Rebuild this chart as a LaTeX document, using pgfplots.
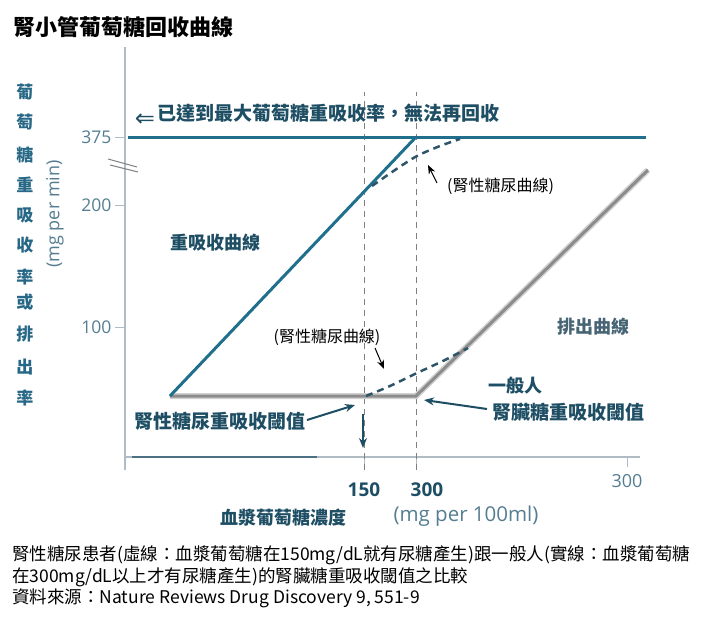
\documentclass[border=0pt]{standalone}
\usepackage{fontspec}
\setmainfont{Noto Sans CJK TC}
\newfontfamily\lat{Open Sans}
\newfontfamily\dejavu{DejaVu Sans}
\usepackage{pgfplots}
\pgfplotsset{compat=1.18}
\usetikzlibrary{arrows.meta}
\newcommand\fs[1]{\fontsize{#1pt}{#1pt}\selectfont}
\definecolor{lineblue}{RGB}{31,111,141}
\definecolor{darkteal}{RGB}{30,78,100}
\definecolor{ytitle}{RGB}{40,104,135}
\definecolor{tickc}{RGB}{85,125,145}
\definecolor{axisc}{RGB}{175,188,198}
\definecolor{greyline}{RGB}{140,140,140}
\definecolor{dashc}{RGB}{45,85,105}
\definecolor{exc}{RGB}{70,100,115}
\begin{document}
\begin{tikzpicture}
\begin{axis}[
  x=1pt, y=1pt,
  xmin=125, xmax=640, ymin=162, ymax=572,
  enlargelimits=false,
  axis lines=left,
  axis line style={-, draw=axisc, line width=1.2pt},
  xtick={364,416}, xticklabels={\textbf{150}\hspace{24pt},\hspace{22pt}\textbf{300}},
  extra x ticks={627}, extra x tick labels={300},
  extra x tick style={xticklabel style={yshift=8pt, text=tickc, font=\lat\fs{18}}},
  ytick={482,414,292}, yticklabels={375,200,100},
  tick align=outside, major tick length=10pt,
  tick style={draw=axisc, line width=1pt},
  xticklabel style={font=\lat\fs{19}, text=darkteal, yshift=-12pt},
  yticklabel style={font=\lat\fs{17.5}, text=tickc},
  clip=false,
]
\path (axis cs:0,0) rectangle (axis cs:712,619);
% dashed guide lines
\addplot[gray, line width=0.8pt, dash pattern=on 6pt off 5pt] coordinates {(364,149) (364,527)};
\addplot[gray, line width=0.8pt, dash pattern=on 6pt off 5pt] coordinates {(416,149) (416,527)};
% axis decorations
\draw[axisc, line width=1.2pt] (axis cs:125,162) -- (axis cs:125,149);
\draw[darkteal!80, line width=1.5pt] (axis cs:132,162) -- (axis cs:317,162);
\draw[gray, line width=1pt] (axis cs:108,460) -- (axis cs:137,452);
\draw[gray, line width=1pt] (axis cs:110,454) -- (axis cs:138,447);
% excretion (grey)
\addplot[gray!35, line width=6pt] coordinates {(170,223) (416,223) (648,449)};
\addplot[greyline, line width=3pt] coordinates {(170,223) (416,223) (648,449)};
% reabsorption (blue)
\addplot[lineblue, line width=3pt] coordinates {(128,482) (646,482)};
\addplot[lineblue, line width=3pt] coordinates {(170,223) (416,482)};
% renal glycosuria dashed curves
\addplot[dashc, line width=2.5pt, dash pattern=on 7pt off 5pt, smooth] coordinates {(372,433) (395,449) (417,463) (440,473) (460,480)};
\addplot[dashc, line width=2.5pt, dash pattern=on 7pt off 5pt, smooth] coordinates {(366,223) (390,233) (417,246) (445,259) (468,271)};
% arrows
\draw[-{Stealth[length=9pt,width=7pt]}, line width=1pt, black] (axis cs:437,436) -- (axis cs:428,454);
\draw[-{Stealth[length=9pt,width=7pt]}, line width=1pt, black] (axis cs:375,271) -- (axis cs:384,250);
\draw[-{Stealth[length=10pt,width=8pt]}, darkteal, line width=2pt] (axis cs:307,199) -- (axis cs:355,214);
\draw[-{Stealth[length=10pt,width=8pt]}, darkteal, line width=2pt] (axis cs:363,205) -- (axis cs:363,171);
\draw[-{Stealth[length=10pt,width=8pt]}, darkteal, line width=2pt] (axis cs:487,210) -- (axis cs:424,219);
% texts
\node[anchor=west, font=\bfseries\fs{22}] at (axis cs:10,592) {腎小管葡萄糖回收曲線};
\node[font=\dejavu\fs{24}, text=darkteal] at (axis cs:145,499) {⇐};
\node[anchor=west, font=\bfseries\fs{19}, text=darkteal, inner sep=0pt] at (axis cs:157,506) {已達到最大葡萄糖重吸收率，無法再回收};
\node[font=\bfseries\fs{18}, text=darkteal] at (axis cs:216,376) {重吸收曲線};
\node[font=\bfseries\fs{18}, text=exc] at (axis cs:593,292) {排出曲線};
\node[font=\bfseries\fs{18}, text=darkteal] at (axis cs:515,233) {一般人};
\node[font=\bfseries\fs{19}, text=darkteal] at (axis cs:568,207) {腎臟糖重吸收閾值};
\node[font=\bfseries\fs{19}, text=darkteal] at (axis cs:220,198) {腎性糖尿重吸收閾值};
\node[anchor=west, font=\fs{16}, inner sep=0pt] at (axis cs:447,433) {(腎性糖尿曲線)};
\node[font=\fs{16}] at (axis cs:327,282) {(腎性糖尿曲線)};
\node[font=\bfseries\fs{18}, text=darkteal] at (axis cs:284,101) {血漿葡萄糖濃度};
\node[font=\lat\fs{20.5}, text=tickc] at (axis cs:466,103) {(mg per 100ml)};
\node[font=\lat\fs{18}, text=tickc, rotate=90] at (axis cs:55,405) {(mg per min)};
\node[font=\bfseries\fs{17}, text=ytitle] at (axis cs:25,527) {葡};
\node[font=\bfseries\fs{17}, text=ytitle] at (axis cs:25,497) {萄};
\node[font=\bfseries\fs{17}, text=ytitle] at (axis cs:25,464) {糖};
\node[font=\bfseries\fs{17}, text=ytitle] at (axis cs:25,434) {重};
\node[font=\bfseries\fs{17}, text=ytitle] at (axis cs:25,404) {吸};
\node[font=\bfseries\fs{17}, text=ytitle] at (axis cs:25,374) {收};
\node[font=\bfseries\fs{17}, text=ytitle] at (axis cs:25,342) {率};
\node[font=\bfseries\fs{17}, text=ytitle] at (axis cs:25,317) {或};
\node[font=\bfseries\fs{17}, text=ytitle] at (axis cs:25,285) {排};
\node[font=\bfseries\fs{17}, text=ytitle] at (axis cs:25,252) {出};
\node[font=\bfseries\fs{17}, text=ytitle] at (axis cs:25,221) {率};
\node[anchor=west, font=\fs{17.5}, inner sep=0pt] at (axis cs:12,64) {腎性糖尿患者(虛線：血漿葡萄糖在150mg/dL就有尿糖產生)跟一般人(實線：血漿葡萄糖};
\node[anchor=west, font=\fs{17.5}, inner sep=0pt] at (axis cs:12,42) {在300mg/dL以上才有尿糖產生)的腎臟糖重吸收閾值之比較};
\node[anchor=west, font=\fs{17.5}, inner sep=0pt] at (axis cs:12,21) {資料來源：Nature Reviews Drug Discovery 9, 551-9};
\end{axis}
\end{tikzpicture}
\end{document}
